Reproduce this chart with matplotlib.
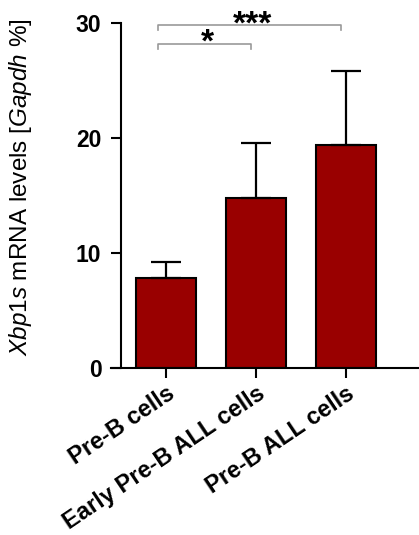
import matplotlib
matplotlib.use("Agg")
from matplotlib import pyplot as plt

plt.rcParams["font.family"] = ["Liberation Sans", "DejaVu Sans"]
plt.rcParams["mathtext.fontset"] = "custom"
plt.rcParams["mathtext.rm"] = "Liberation Sans"
plt.rcParams["mathtext.it"] = "Liberation Sans:italic"

categories = ["Pre-B cells", "Early Pre-B ALL cells", "Pre-B ALL cells"]
means = [7.8, 14.8, 19.4]
err_up = [1.4, 4.8, 6.4]
# pairs compared (index a, index b, bracket height, label)
comparisons = [(0, 1, 28.2, "*"), (0, 2, 29.8, "***")]

fig = plt.figure(figsize=(4.19, 5.35), dpi=100)
ax = fig.add_axes([111 / 419, 1 - 368 / 535, 308 / 419, 345 / 535])

x = list(range(len(categories)))
ax.bar(x, means, width=0.66, color="#990000", edgecolor="black", linewidth=1.5, zorder=2)
ax.errorbar(x, means, yerr=[[0] * len(means), err_up], fmt="none", ecolor="black",
            elinewidth=1.6, capsize=11, capthick=1.6, zorder=3)

ax.set_xlim(-0.61, 2.81)
ax.set_ylim(0, 30)
ax.set_yticks([0, 10, 20, 30])
ax.spines["top"].set_visible(False)
ax.spines["right"].set_visible(False)
ax.spines["left"].set_bounds(0, 30)
ax.spines["left"].set_position(("data", -0.5))
ax.spines["left"].set_linewidth(1.5)
ax.spines["bottom"].set_linewidth(1.5)
ax.tick_params(axis="both", length=7, width=1.5, direction="out")
ax.tick_params(axis="y", labelsize=16.5, pad=7)
ax.tick_params(axis="x", labelsize=17, pad=3)
for lab in ax.get_yticklabels():
    lab.set_fontweight("bold")

ax.set_xticks(x)
ax.set_xticklabels(categories, rotation=34, ha="right", rotation_mode="anchor", fontweight="bold")

ax.set_ylabel(r"$\mathit{Xbp1s}$ mRNA levels [$\mathit{Gapdh}$ %]", fontsize=17.5)
ax.yaxis.set_label_coords(-0.25, 0.525)

for a, b, h, txt in comparisons:
    ax.plot([a - 0.09, a - 0.09, b - 0.06, b - 0.06], [h - 0.45, h, h, h - 0.45],
            color="#999999", lw=1.2, clip_on=False)
    ax.text((a + b) / 2 - 0.04, h - 0.7, txt,
            ha="center", va="baseline", fontsize=24, fontweight="bold", clip_on=False)

fig.savefig("out.png", dpi=100)
